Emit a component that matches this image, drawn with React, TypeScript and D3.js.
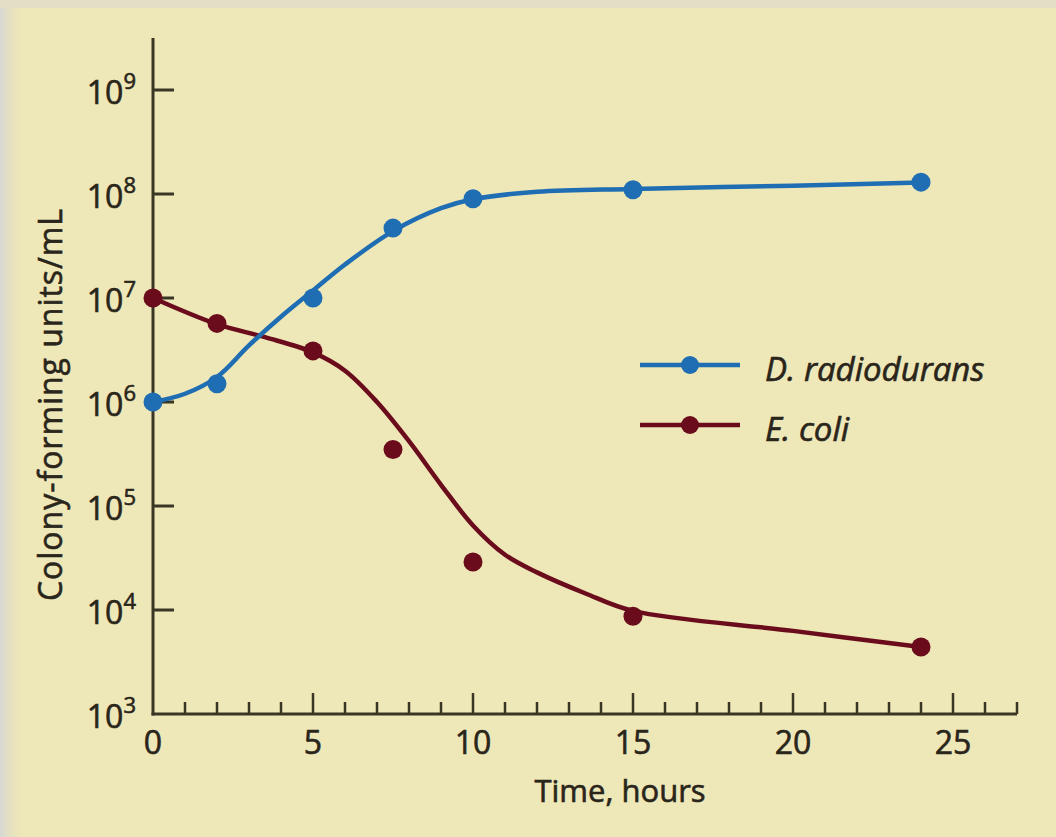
import React, { useEffect, useRef } from 'react';
import * as d3 from 'd3';

// measured points (CFU/mL)
const hours = [0, 2, 5, 7.5, 10, 15, 24];
const radiodurans = [1.0e6, 1.5e6, 1.0e7, 4.7e7, 9.0e7, 1.1e8, 1.3e8];
const eColi = [1.0e7, 5.7e6, 3.1e6, 3.5e5, 2.9e4, 8.7e3, 4.4e3];

// fitted curves as drawn in the figure
const radioCurveHours = [0, 1, 2, 3, 4, 5, 6, 7.5, 9, 10, 12, 15, 20, 24];
const radioCurve = [1.0e6, 1.2e6, 1.74e6, 3.5e6, 6.6e6, 1.18e7, 2.1e7, 4.4e7, 7.3e7, 8.9e7, 1.05e8, 1.12e8, 1.2e8, 1.29e8];
const coliCurveHours = [0, 2, 3.5, 5, 6, 7, 8, 9, 10, 11, 12, 13.5, 15, 20, 24];
const coliCurve = [1.0e7, 5.6e6, 4.2e6, 3.0e6, 2.0e6, 1.0e6, 4.2e5, 1.6e5, 6.5e4, 3.4e4, 2.3e4, 1.45e4, 9.8e3, 6.3e3, 4.4e3];

const yTickExponents = [3, 4, 5, 6, 7, 8, 9];
const xMajorTicks = [0, 5, 10, 15, 20, 25];

const seriesNames = ['D. radiodurans', 'E. coli'];
const seriesColors = ['#1f6db3', '#6a0c1c'];

const W = 1056;
const H = 837;
const FONT = "'Open Sans', 'DejaVu Sans', sans-serif";
const INK = '#29251a';
const AXIS = '#3a3626';

function draw(node: SVGSVGElement) {
  const svg = d3.select(node);
  svg.selectAll('*').remove();

  const x = d3.scaleLinear().domain([0, 27]).range([153, 1017]);
  const y = d3.scaleLog().domain([1e3, Math.pow(10, 9.5)]).range([714, 38]);

  // paper
  const defs = svg.append('defs');
  const grad = defs.append('linearGradient').attr('id', 'edge').attr('x1', 0).attr('x2', 1);
  grad.append('stop').attr('offset', 0).attr('stop-color', '#d6d7d3');
  grad.append('stop').attr('offset', 1).attr('stop-color', '#ece5b6').attr('stop-opacity', 0);
  svg.append('rect').attr('width', W).attr('height', H).attr('fill', '#eee7b7');
  svg.append('rect').attr('width', 26).attr('height', H).attr('fill', 'url(#edge)');
  svg.append('rect').attr('width', W).attr('height', 8).attr('fill', '#e3dfc6');

  // axes
  const axes = svg.append('g').attr('stroke', AXIS).attr('stroke-width', 3).attr('fill', 'none');
  axes.append('line').attr('x1', x(0)).attr('x2', x(0)).attr('y1', y.range()[1]).attr('y2', y(1e3) + 1.5);
  axes.append('line').attr('x1', x(0) - 1.5).attr('x2', x(27)).attr('y1', y(1e3)).attr('y2', y(1e3));

  axes
    .selectAll('line.yt')
    .data(yTickExponents.slice(1))
    .join('line')
    .attr('class', 'yt')
    .attr('x1', x(0))
    .attr('x2', x(0) + 21)
    .attr('y1', (d) => y(Math.pow(10, d)))
    .attr('y2', (d) => y(Math.pow(10, d)));

  axes
    .selectAll('line.xt')
    .data(d3.range(1, 28))
    .join('line')
    .attr('class', 'xt')
    .attr('stroke-width', 2.5)
    .attr('x1', (d) => x(d))
    .attr('x2', (d) => x(d))
    .attr('y1', y(1e3))
    .attr('y2', (d) => y(1e3) - (d % 5 === 0 ? 21 : 12));

  const texts = svg
    .append('g')
    .attr('font-family', FONT)
    .attr('fill', INK)
    .attr('stroke', INK)
    .attr('stroke-width', 0.6);

  // tick labels
  const yl = texts
    .append('g')
    .attr('font-size', 32)
    .attr('text-anchor', 'end')
    .selectAll('text')
    .data(yTickExponents)
    .join('text')
    .attr('x', 136)
    .attr('y', (d) => y(Math.pow(10, d)) + 14)
    .text('10');
  yl.append('tspan')
    .attr('dy', -15)
    .attr('font-size', 22)
    .text((d) => d);

  texts
    .append('g')
    .attr('font-size', 32)
    .attr('text-anchor', 'middle')
    .selectAll('text')
    .data(xMajorTicks)
    .join('text')
    .attr('x', (d) => x(d))
    .attr('y', 754)
    .text((d) => d);

  // axis titles
  texts
    .append('text')
    .attr('transform', 'translate(62,405) rotate(-90)')
    .attr('text-anchor', 'middle')
    .attr('font-size', 32)
    .attr('textLength', 392)
    .text('Colony-forming units/mL');
  texts
    .append('text')
    .attr('x', 620)
    .attr('y', 802)
    .attr('text-anchor', 'middle')
    .attr('font-size', 31)
    .text('Time, hours');

  // curves and points
  const line = d3
    .line<[number, number]>()
    .x((d) => x(d[0]))
    .y((d) => y(d[1]))
    .curve(d3.curveCatmullRom.alpha(0.5));

  const curves = [
    d3.zip(radioCurveHours, radioCurve),
    d3.zip(coliCurveHours, coliCurve),
  ];
  const points = [radiodurans, eColi];

  [1, 0].forEach((i) => {
    svg
      .append('path')
      .attr('d', line(curves[i] as [number, number][]))
      .attr('fill', 'none')
      .attr('stroke', seriesColors[i])
      .attr('stroke-width', 4.5)
      .attr('stroke-linecap', 'round');
    svg
      .append('g')
      .attr('fill', seriesColors[i])
      .selectAll('circle')
      .data(points[i])
      .join('circle')
      .attr('cx', (d, j) => x(hours[j]))
      .attr('cy', (d) => y(d))
      .attr('r', 9.5);
  });

  // legend
  const legend = svg.append('g');
  seriesNames.forEach((name, i) => {
    const ly = 365 + i * 60;
    legend
      .append('line')
      .attr('x1', 640)
      .attr('x2', 740)
      .attr('y1', ly)
      .attr('y2', ly)
      .attr('stroke', seriesColors[i])
      .attr('stroke-width', 4.5);
    legend.append('circle').attr('cx', 690).attr('cy', ly).attr('r', 9).attr('fill', seriesColors[i]);
    legend
      .append('text')
      .attr('x', 765)
      .attr('y', ly + 16)
      .attr('font-family', FONT)
      .attr('font-size', 33)
      .attr('font-style', 'italic')
      .attr('fill', INK)
      .attr('stroke', INK)
      .attr('stroke-width', 0.6)
      .text(name);
  });
}

export default function App() {
  const ref = useRef<SVGSVGElement>(null);
  useEffect(() => {
    if (ref.current) draw(ref.current);
  }, []);
  return (
    <svg
      ref={ref}
      width={W}
      height={H}
      viewBox={`0 0 ${W} ${H}`}
      style={{ position: 'absolute', left: 0, top: 0, display: 'block' }}
    />
  );
}
